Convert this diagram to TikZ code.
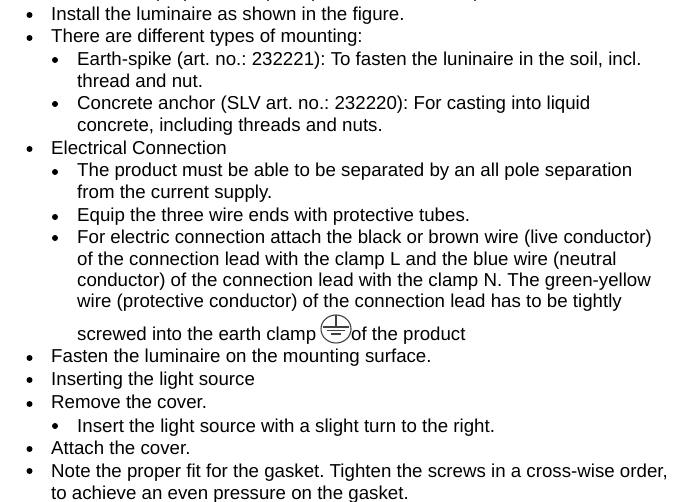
\documentclass[tikz,border=0pt]{standalone}
\usepackage{fontspec}
\setmainfont{Liberation Sans}
\frenchspacing
\tikzset{
  linetext/.style={anchor=base west,inner sep=0pt,font=\fontsize{18.7pt}{22pt}\selectfont},
  dotmark/.style={circle,fill=black,inner sep=0pt,minimum size=6pt},
  earthline/.style={black!75,line width=1.1pt}
}
\begin{document}
\begin{tikzpicture}[x=1pt,y=-1pt]
   \useasboundingbox (0,0) rectangle (688,502);
   % what is left of the line cut off at the top
   \foreach \xx in {158,185,268,313,475}
      \draw[black!70,line width=1.2pt] (\xx,0) -- (\xx,1.5);
   % bullets, first level and second level
   \foreach \yy in {15,38,149,358,380,404,449,471}
      \node[dotmark] at (29.5,\yy) {};
   \foreach \yy in {60,104,172,217,238,426}
      \node[dotmark] at (55,\yy) {};
   % first level
   \node[linetext] (install) at (51,20.6) {Install the luminaire as shown in the figure.};
   \node[linetext] (types) at (51,43) {There are different types of mounting:};
   \node[linetext] (conn) at (51,155) {Electrical Connection};
   \node[linetext] (fasten) at (51,363) {Fasten the luminaire on the mounting surface.};
   \node[linetext] (source) at (51,386) {Inserting the light source};
   \node[linetext] (cover) at (51,408.7) {Remove the cover.};
   \node[linetext] (attach) at (51,454.7) {Attach the cover.};
   \node[linetext] (gasket) at (51,477) {Note the proper fit for the gasket. Tighten the screws in a cross-wise order,};
   \node[linetext] (gasketb) at (51,499) {to achieve an even pressure on the gasket.};
   % second level
   \node[linetext] (spike) at (77,66) {Earth-spike (art. no.: 232221): To fasten the luninaire in the soil, incl.};
   \node[linetext] (spikeb) at (77,87.5) {thread and nut.};
   \node[linetext] (anchor) at (77,110) {Concrete anchor (SLV art. no.: 232220): For casting into liquid};
   \node[linetext] (anchorb) at (77,132) {concrete, including threads and nuts.};
   \node[linetext] (pole) at (77,177) {The product must be able to be separated by an all pole separation};
   \node[linetext] (poleb) at (77,199) {from the current supply.};
   \node[linetext] (tubes) at (77,222) {Equip the three wire ends with protective tubes.};
   \node[linetext] (elec) at (77,244) {For electric connection attach the black or brown wire (live conductor)};
   \node[linetext] (elecb) at (77,266) {of the connection lead with the clamp L and the blue wire (neutral};
   \node[linetext] (elecc) at (77,287) {conductor) of the connection lead with the clamp N. The green-yellow};
   \node[linetext] (elecd) at (77,308) {wire (protective conductor) of the connection lead has to be tightly};
   \node[linetext] (elece) at (77,341) {screwed into the earth clamp};
   \node[linetext] (ofprod) at (351,341) {of the product};
   \node[linetext] (insert) at (77,432) {Insert the light source with a slight turn to the right.};
   % earth symbol
   \draw[earthline] (336,329) ellipse [x radius=15,y radius=14];
   \draw[earthline] (336,315) -- (336,327) (323,327) -- (349,327) (327,330.5) -- (345,330.5) (331,334) -- (341,334);
\end{tikzpicture}
\end{document}
